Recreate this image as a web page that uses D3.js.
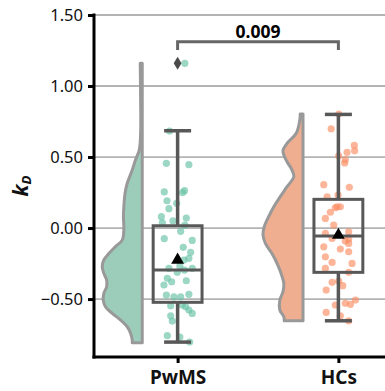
<!DOCTYPE html>
<html><head><meta charset="utf-8">
<script src="https://cdn.jsdelivr.net/npm/d3@7"></script>
<style>body{margin:0;background:#fff}svg{display:block}text{font-family:"Noto Sans","Open Sans",sans-serif}</style>
</head><body><svg id="c" width="385" height="391"></svg>
<script>
// ---- data ----
const categories = ["PwMS", "HCs"];
const yTicks = [1.5, 1.0, 0.5, 0.0, -0.5];
const pValueLabel = "0.009";

const pwmsValues = [1.160,0.683,0.456,0.446,0.254,0.263,0.250,0.192,0.174,0.136,0.080,0.051,0.070,0.037,0.021,-0.023,-0.075,-0.087,-0.136,-0.171,-0.213,-0.225,-0.268,-0.284,-0.312,-0.284,-0.296,-0.354,-0.371,-0.378,-0.401,-0.472,-0.484,-0.484,-0.467,-0.547,-0.542,-0.554,-0.577,-0.601,-0.618,-0.655,-0.758,-0.768,-0.803];
const pwmsJitter = [0.045,-0.050,-0.070,0.070,-0.083,0.043,0.031,-0.066,-0.006,-0.054,-0.101,-0.029,0.054,-0.095,0.045,0.019,-0.083,0.091,0.035,0.081,0.070,0.039,0.014,-0.054,-0.002,0.091,0.043,-0.064,0.054,-0.037,-0.085,-0.070,-0.023,0.019,0.070,-0.043,0.029,0.050,0.070,0.091,-0.043,-0.033,-0.064,0.014,0.075];
const hcsValues = [0.803,0.699,0.582,0.544,0.533,0.509,0.481,0.458,0.305,0.287,0.220,0.232,0.150,0.150,0.143,0.111,0.068,0.021,-0.037,-0.026,-0.073,-0.092,-0.077,-0.108,-0.132,-0.148,-0.167,-0.202,-0.242,-0.249,-0.284,-0.312,-0.382,-0.373,-0.406,-0.437,-0.507,-0.530,-0.537,-0.542,-0.594,-0.618,-0.653];
const hcsJitter = [0.002,-0.045,0.099,0.101,0.054,0.002,0.043,0.039,-0.091,0.068,-0.070,-0.002,-0.008,0.012,-0.019,-0.050,-0.081,-0.029,-0.081,0.064,-0.039,0.043,0.064,0.064,-0.091,0.012,0.064,-0.081,-0.039,0.085,-0.081,0.064,-0.039,0.002,0.027,-0.076,0.106,0.043,0.075,-0.019,-0.076,0.012,0.064];

// box statistics: [whiskerLow, q1, median, q3, whiskerHigh]
const pwmsBox = [-0.803, -0.523, -0.296, 0.016, 0.685];
const hcsBox = [-0.653, -0.312, -0.056, 0.202, 0.800];
const means = [-0.225, -0.050];
const pwmsOutliers = [1.160];
const hcsOutliers = [];

// half-violin density profiles (value, relative density)
const pwmsDensityY = [1.160,0.901,0.667,0.549,0.479,0.408,0.315,0.244,0.150,0.080,-0.014,-0.085,-0.131,-0.178,-0.225,-0.272,-0.319,-0.366,-0.413,-0.460,-0.507,-0.554,-0.601,-0.648,-0.695,-0.742,-0.789,-0.808];
const pwmsDensity = [0.05,0.04,0.04,0.075,0.17,0.25,0.375,0.43,0.46,0.47,0.46,0.5,0.67,0.83,0.96,1.0,0.96,0.89,0.89,0.96,0.975,0.92,0.75,0.54,0.375,0.29,0.25,0.25];
const hcsDensityY = [0.803,0.761,0.667,0.596,0.549,0.514,0.467,0.408,0.362,0.291,0.221,0.150,0.080,0.009,-0.049,-0.108,-0.178,-0.249,-0.319,-0.390,-0.448,-0.507,-0.577,-0.624,-0.653];
const hcsDensity = [0.07,0.08,0.17,0.40,0.50,0.48,0.40,0.275,0.23,0.40,0.57,0.73,0.86,0.97,1.0,0.94,0.78,0.65,0.55,0.48,0.50,0.58,0.58,0.48,0.47];

const pointColors = ["#66c2a5", "#fc8d62"];
const violinColors = ["#9ccdbb", "#f0ae90"];

// ---- drawing ----
(function () {
const svg = d3.select("#c");
const W = 385;
const mLeft = 94, mTop = 15, mBottom = 357;
const x = d3.scaleLinear().domain([-0.52, 1.52]).range([mLeft, 422]);
const y = d3.scaleLinear().domain([-0.908, 1.5]).range([mBottom, mTop]);
const wScale = d3.scaleLinear().domain([0, 1]).range([0, 40]);

const groups = [
  {i:0, vals:pwmsValues, jit:pwmsJitter, box:pwmsBox, out:pwmsOutliers, dy:pwmsDensityY, d:pwmsDensity},
  {i:1, vals:hcsValues, jit:hcsJitter, box:hcsBox, out:hcsOutliers, dy:hcsDensityY, d:hcsDensity}
];

// grid
svg.append("g").selectAll("line").data(yTicks).join("line")
  .attr("x1", mLeft).attr("x2", W).attr("y1", d => y(d)).attr("y2", d => y(d))
  .attr("stroke", "#b3b3b3").attr("stroke-width", 1.8);

// violins
groups.forEach(g => {
  const edge = x(g.i - 0.22);
  const pts = g.dy.map((v, k) => [v, g.d[k]]);
  const area = d3.area().y(p => y(p[0])).x0(edge).x1(p => edge - wScale(p[1])).curve(d3.curveCatmullRom);
  svg.append("path").attr("d", area(pts))
    .attr("fill", violinColors[g.i]).attr("stroke", "#999").attr("stroke-width", 3).attr("stroke-linejoin", "round");
});

// points
groups.forEach(g => {
  svg.append("g").selectAll("circle").data(g.vals).join("circle")
    .attr("cx", (v, k) => x(g.i + g.jit[k])).attr("cy", v => y(v)).attr("r", 3.6)
    .attr("fill", pointColors[g.i]).attr("fill-opacity", 0.65);
});

// boxes
const boxColor = "#585858";
groups.forEach(g => {
  const [wl, q1, med, q3, wh] = g.box;
  const bg = svg.append("g").attr("stroke", boxColor).attr("fill", "none");
  bg.append("line").attr("x1", x(g.i)).attr("x2", x(g.i)).attr("y1", y(q3)).attr("y2", y(wh)).attr("stroke-width", 3.5);
  bg.append("line").attr("x1", x(g.i)).attr("x2", x(g.i)).attr("y1", y(q1)).attr("y2", y(wl)).attr("stroke-width", 3.5);
  [wl, wh].forEach(v => bg.append("line").attr("x1", x(g.i - 0.084)).attr("x2", x(g.i + 0.084)).attr("y1", y(v)).attr("y2", y(v)).attr("stroke-width", 3.5));
  bg.append("rect").attr("x", x(g.i - 0.152)).attr("width", x(g.i + 0.152) - x(g.i - 0.152))
    .attr("y", y(q3)).attr("height", y(q1) - y(q3)).attr("stroke-width", 3);
  bg.append("line").attr("x1", x(g.i - 0.152)).attr("x2", x(g.i + 0.152)).attr("y1", y(med)).attr("y2", y(med)).attr("stroke-width", 3);
  svg.append("g").selectAll("path").data(g.out).join("path")
    .attr("d", "M0,-6.5L3.9,0L0,6.5L-3.9,0Z")
    .attr("transform", v => `translate(${x(g.i)},${y(v)})`).attr("fill", "#4a4a4a");
  svg.append("path").attr("d", d3.symbol(d3.symbolTriangle, 72)())
    .attr("transform", `translate(${x(g.i)},${y(means[g.i])})`).attr("fill", "#000");
});

// significance bracket
const by = 41.7;
svg.append("path")
  .attr("d", `M${x(0)},50V${by}H${x(1)}V50`)
  .attr("fill", "none").attr("stroke", "#666").attr("stroke-width", 3);
svg.append("text").attr("x", (x(0) + x(1)) / 2).attr("y", 37.5).attr("text-anchor", "middle")
  .attr("font-size", 17.5).attr("font-weight", "bold").text(pValueLabel);

// axes
const yAxis = d3.axisLeft(y).tickValues(yTicks).tickFormat(d3.format(".2f")).tickSize(6).tickPadding(5);
const gy = svg.append("g").attr("transform", `translate(${mLeft},0)`).call(yAxis);
gy.select(".domain").remove();
gy.selectAll(".tick line").attr("stroke", "#000").attr("stroke-width", 3);
gy.selectAll(".tick text").attr("font-size", 16.5).attr("fill", "#111").attr("font-family", "Noto Sans");
svg.append("line").attr("x1", mLeft).attr("x2", mLeft).attr("y1", mTop - 1.5).attr("y2", mBottom + 1.5).attr("stroke", "#000").attr("stroke-width", 3);

const xAxis = d3.axisBottom(x).tickValues([0, 1]).tickFormat(i => categories[i]).tickSize(6).tickPadding(8);
const gx = svg.append("g").attr("transform", `translate(0,${mBottom})`).call(xAxis);
gx.select(".domain").remove();
gx.selectAll(".tick line").attr("stroke", "#000").attr("stroke-width", 3);
gx.selectAll(".tick text").attr("font-size", 19).attr("font-weight", "bold").attr("fill", "#111").attr("font-family", "Noto Sans");
svg.append("line").attr("x1", mLeft - 1.5).attr("x2", W).attr("y1", mBottom).attr("y2", mBottom).attr("stroke", "#000").attr("stroke-width", 3);

// y label
const yl = svg.append("text").attr("transform", "translate(28,186) rotate(-90)").attr("text-anchor", "middle")
  .attr("font-weight", "bold").attr("font-style", "italic").attr("fill", "#111");
yl.append("tspan").attr("font-size", 21).text("k");
yl.append("tspan").attr("font-size", 13).attr("dy", 3).text("D");
})();
</script></body></html>
